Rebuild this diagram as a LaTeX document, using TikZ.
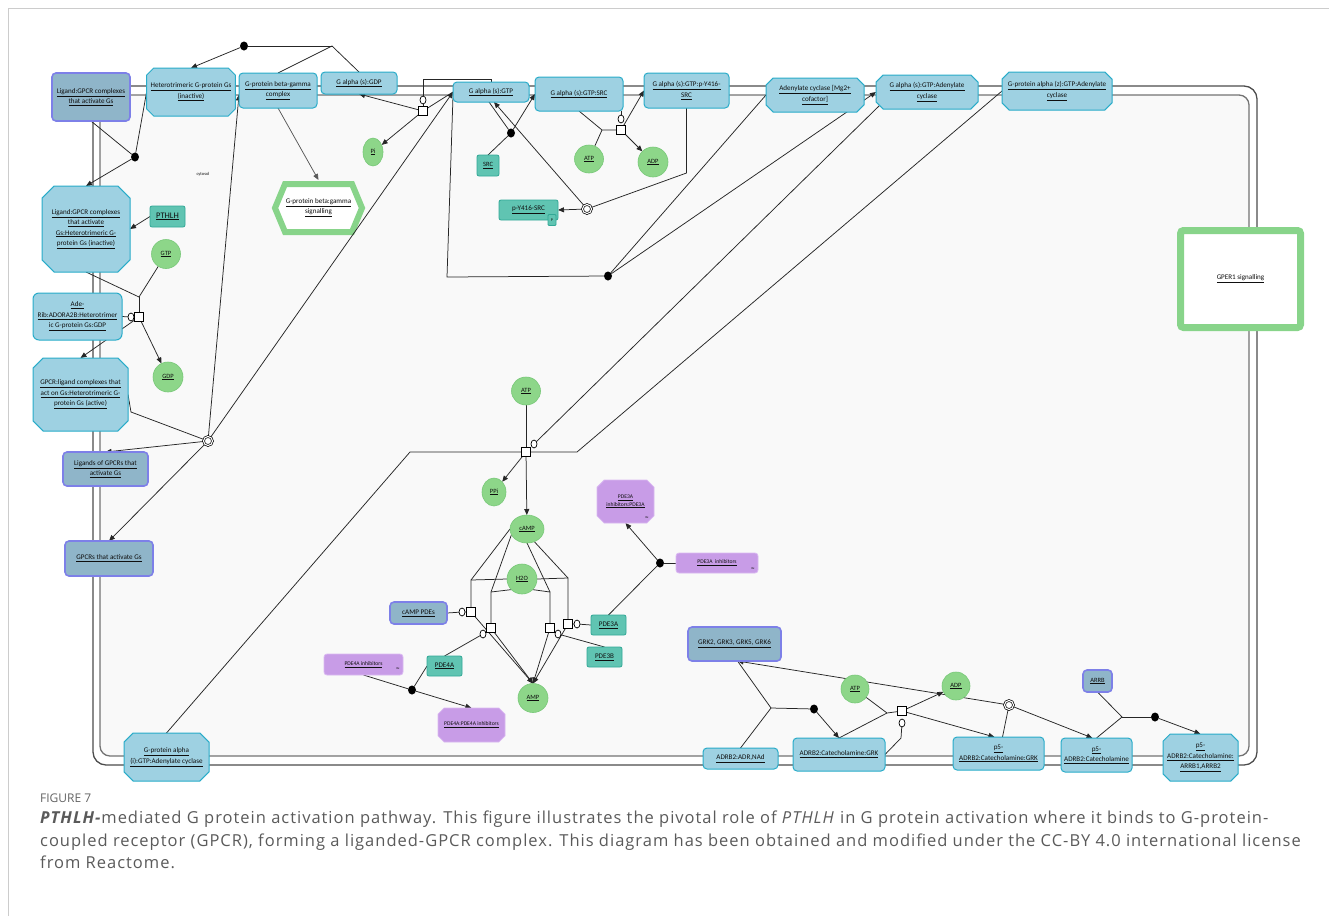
\documentclass[tikz,border=0pt]{standalone}
\usepackage{fontspec}
\setmainfont{Carlito}
\newfontfamily\capfont[LetterSpace=6]{Open Sans}
\newfontfamily\figfont{Open Sans}
\usetikzlibrary{arrows.meta,shapes.misc,shapes.geometric,calc}
\pgfdeclarelayer{comp}
\pgfdeclarelayer{edges}
\pgfsetlayers{comp,edges,main}

\definecolor{cplxF}{RGB}{158,209,226}
\definecolor{cplxB}{RGB}{41,172,201}
\definecolor{setF}{RGB}{143,181,201}
\definecolor{setB}{RGB}{125,128,232}
\definecolor{protF}{RGB}{96,196,178}
\definecolor{protB}{RGB}{50,168,150}
\definecolor{smF}{RGB}{141,214,137}
\definecolor{smB}{RGB}{120,200,120}
\definecolor{drugF}{RGB}{200,156,231}
\definecolor{drugB}{RGB}{218,185,242}
\definecolor{sigG}{RGB}{136,212,138}
\definecolor{cytF}{RGB}{249,249,249}
\definecolor{txtC}{RGB}{15,15,15}
\definecolor{capC}{RGB}{90,90,90}
\definecolor{figC}{RGB}{100,100,100}

\newcommand\ulx[1]{\underline{#1}}
\newcommand\dfont{\fontsize{7.1}{10.5}\selectfont}
\newcommand\smfont{\fontsize{6.5}{7}\selectfont}
\newcommand\drfont{\fontsize{5.6}{7.5}\selectfont}
\newcommand\rxfont{\fontsize{3}{3}\selectfont}

\tikzset{
  base/.style={inner sep=0pt, outer sep=0pt, align=center, font=\dfont, text=txtC},
  cplx/.style={base, draw=cplxB, fill=cplxF, line width=1pt, rounded corners=4pt},
  cplxo/.style={base, draw=cplxB, fill=cplxF, line width=1pt, chamfered rectangle, chamfered rectangle angle=45, chamfered rectangle xsep=4pt},
  eset/.style={base, draw=setB, fill=setF, line width=1.6pt, rounded corners=4pt},
  prot/.style={base, draw=protB, fill=protF, line width=0.8pt, rounded corners=2pt},
  smol/.style={base, draw=smB, fill=smF, line width=0.6pt, ellipse, font=\smfont},
  drug/.style={base, draw=drugB, fill=drugF, line width=0.8pt, rounded corners=3pt, font=\drfont},
  drugo/.style={base, draw=drugB, fill=drugF, line width=0.8pt, chamfered rectangle, chamfered rectangle angle=45, chamfered rectangle xsep=4pt, font=\drfont},
  rx/.style={inner sep=0pt, font=\rxfont, text=txtC},
  proc/.style={draw, fill=white, line width=0.7pt, minimum size=9pt, inner sep=0pt, outer sep=0pt},
  cata/.style={draw, fill=white, ellipse, line width=0.7pt, minimum width=6pt, minimum height=8pt, inner sep=0pt, outer sep=0pt},
  jdot/.style={fill=black, ellipse, minimum width=8pt, minimum height=9pt, inner sep=0pt, outer sep=0pt},
  diss/.style={draw, circle, fill=white, double, double distance=1.1pt, line width=0.7pt, minimum size=9pt, inner sep=0pt, outer sep=0pt},
  ln/.style={draw=black!85, line width=0.75pt},
  arr/.style={ln, -{Triangle[length=6pt,width=5pt]}},
}

\begin{document}
\begin{tikzpicture}[x=1pt,y=-1pt]
\useasboundingbox (0,0) rectangle (1329,916);

\begin{pgfonlayer}{comp}
  \draw[gray!40, line width=0.6pt] (8,916) -- (8,8) -- (1329,8);
  \draw[fill=cytF, draw=black!55, line width=1.3pt, rounded corners=10pt] (100,95) rectangle (1249,756);
  \draw[draw=black!70, line width=1.3pt, rounded corners=13pt] (93,86) rectangle (1257,765);
  % beta-gamma signalling hexagon
  \draw[draw=sigG, fill=white, line width=6pt, line join=miter] (275,208) -- (285,184) -- (352,184) -- (362,208) -- (352,232) -- (285,232) -- cycle;
\end{pgfonlayer}

% ---------- entities ----------
\node[eset, minimum width=78pt, minimum height=48pt] (l1) at (91,97) {\ulx{Ligand:GPCR complexes}\\\ulx{that activate Gs}};
\node[cplxo, minimum width=88pt, minimum height=48pt] (het) at (191,92) {\ulx{Heterotrimeric G-protein Gs}\\\ulx{(inactive)}};
\node[cplx, minimum width=78pt, minimum height=35pt] (bg) at (278,90.5) {\ulx{G-protein beta-gamma}\\\ulx{complex}};
\node[cplx, minimum width=76pt, minimum height=22pt] (gdpa) at (359,83) {\ulx{G alpha (s):GDP}};
\node[cplx, minimum width=76pt, minimum height=20pt] (gtpa) at (491,92) {\ulx{G alpha (s):GTP}};
\node[cplx, minimum width=88pt, minimum height=34pt] (srcc) at (579,94) {\ulx{G alpha (s):GTP:SRC}};
\node[cplx, minimum width=85pt, minimum height=35pt] (py) at (686.5,90.5) {\ulx{G alpha (s):GTP:p-Y416-}\\\ulx{SRC}};
\node[cplxo, minimum width=98pt, minimum height=34pt] (ac) at (815,95) {\ulx{Adenylate cyclase [Mg2+}\\\ulx{cofactor]}};
\node[cplxo, minimum width=102pt, minimum height=34pt] (gac) at (927,92) {\ulx{G alpha (s):GTP:Adenylate}\\\ulx{cyclase}};
\node[cplxo, minimum width=110pt, minimum height=38pt] (zac) at (1057,91) {\ulx{G-protein alpha (z):GTP:Adenylate}\\\ulx{cyclase}};

\node[base, minimum width=97pt, minimum height=55pt] (bgs) at (318.5,207.5) {\ulx{G-protein beta:gamma}\\\ulx{signalling}};
\node[base, font=\fontsize{4.5}{5}\selectfont] (cyt) at (203,174) {cytosol};

\node[prot, minimum width=35pt, minimum height=21pt, font=\fontsize{8.5}{9}\selectfont] (pthlh) at (167.5,216.5) {\ulx{PTHLH}};
\node[smol, minimum width=29pt, minimum height=29pt] (gtp) at (166,254) {\ulx{GTP}};
\node[cplxo, chamfered rectangle xsep=9pt, minimum width=88pt, minimum height=86pt] (l1h) at (86,229) {\ulx{Ligand:GPCR complexes}\\\ulx{that activate}\\\ulx{Gs:Heterotrimeric G-}\\\ulx{protein Gs (inactive)}};
\node[cplx, rounded corners=6pt, minimum width=89pt, minimum height=47pt] (ade) at (77.5,316.5) {\ulx{Ade-}\\\ulx{Rib:ADORA2B:Heterotrimer}\\\ulx{ic G-protein Gs:GDP}};
\node[smol, minimum width=30pt, minimum height=30pt] (gdp) at (168,377) {\ulx{GDP}};
\node[cplxo, chamfered rectangle xsep=7pt, minimum width=95pt, minimum height=73pt] (act) at (80.5,394.5) {\ulx{GPCR:ligand complexes that}\\\ulx{act on Gs:Heterotrimeric G-}\\\ulx{protein Gs (active)}};
\node[eset, minimum width=85pt, minimum height=34pt] (lig) at (105.5,469) {\ulx{Ligands of GPCRs that}\\\ulx{activate Gs}};
\node[eset, minimum width=88pt, minimum height=35pt] (gps) at (109,558.5) {\ulx{GPCRs that activate Gs}};
\node[cplxo, chamfered rectangle xsep=6pt, minimum width=85pt, minimum height=48pt] (gai) at (166.5,757) {\ulx{G-protein alpha}\\\ulx{(i):GTP:Adenylate cyclase}};

\node[smol, minimum width=20pt, minimum height=28pt] (pi) at (373,152) {\ulx{Pi}};
\node[prot, minimum width=22pt, minimum height=21pt, font=\smfont] (src) at (488,165.5) {\ulx{SRC}};
\node[prot, minimum width=59pt, minimum height=20pt] (pys) at (528.5,210) {\ulx{p-Y416-SRC}};
\node[prot, rounded corners=1pt, minimum width=8pt, minimum height=11pt, font=\fontsize{4}{4}\selectfont] (pysp) at (552,220) {P};
\node[smol, minimum width=29pt, minimum height=28pt] (atpa) at (589,159) {\ulx{ATP}};
\node[smol, minimum width=30pt, minimum height=30pt] (adpa) at (653,162) {\ulx{ADP}};

\node[base, draw=sigG, fill=white, line width=7pt, rounded corners=3pt, minimum width=120pt, minimum height=97pt] (gper) at (1240.5,279) {\ulx{GPER1 signalling}};

\node[smol, minimum width=29pt, minimum height=28pt] (atpb) at (526,391) {\ulx{ATP}};
\node[smol, minimum width=24pt, minimum height=28pt] (ppi) at (494,492) {\ulx{PPi}};
\node[smol, minimum width=34pt, minimum height=28pt] (camp) at (527,529) {\ulx{cAMP}};
\node[smol, minimum width=30pt, minimum height=30pt] (h2o) at (522,579) {\ulx{H2O}};
\node[smol, minimum width=30pt, minimum height=29pt] (amp) at (533,698) {\ulx{AMP}};

\node[eset, minimum width=57pt, minimum height=22pt] (cpde) at (418.5,613) {\ulx{cAMP PDEs}};
\node[prot, minimum width=35pt, minimum height=20pt] (pde4a) at (444.5,666) {\ulx{PDE4A}};
\node[prot, minimum width=35pt, minimum height=20pt] (pde3b) at (604.5,657) {\ulx{PDE3B}};
\node[prot, minimum width=35pt, minimum height=20pt] (pde3a) at (608.5,625) {\ulx{PDE3A}};

\node[drug, minimum width=82pt, minimum height=20pt] (p3i) at (717,563) {\ulx{PDE3A~~inhibitors}};
\node[rx] (p3irx) at (753,569) {Rx};
\node[drugo, minimum width=57pt, minimum height=43pt] (p3c) at (625.5,501.5) {\ulx{PDE3A}\\\ulx{inhibitors:PDE3A}};
\node[rx] (p3crx) at (647,518) {Rx};
\node[drug, minimum width=79pt, minimum height=21pt] (p4i) at (363.5,664.5) {\ulx{PDE4A inhibitors}};
\node[rx] (p4irx) at (398,669) {Rx};
\node[drugo, minimum width=67pt, minimum height=34pt] (p4c) at (471.5,725) {\ulx{PDE4A:PDE4A inhibitors}};

\node[eset, minimum width=93pt, minimum height=34pt] (grk) at (734.5,644) {\ulx{GRK2, GRK3, GRK5, GRK6}};
\node[smol, minimum width=28pt, minimum height=28pt] (atpc) at (855,689) {\ulx{ATP}};
\node[smol, minimum width=28pt, minimum height=28pt] (adpc) at (956,686) {\ulx{ADP}};
\node[eset, minimum width=29pt, minimum height=22pt, font=\smfont] (arrb) at (1097.5,681) {\ulx{ARRB}};
\node[cplx, minimum width=75pt, minimum height=21pt] (adr) at (740.5,758.5) {\ulx{ADRB2:ADR,NAd}};
\node[cplx, minimum width=92pt, minimum height=33pt] (acg) at (839,754.5) {\ulx{ADRB2:Catecholamine:GRK}};
\node[cplx, minimum width=91pt, minimum height=33pt] (p5g) at (998.5,753.5) {\ulx{p5-}\\\ulx{ADRB2:Catecholamine:GRK}};
\node[cplx, minimum width=71pt, minimum height=34pt] (p5c) at (1096.5,755) {\ulx{p5-}\\\ulx{ADRB2:Catecholamine}};
\node[cplxo, minimum width=75pt, minimum height=47pt] (p5a) at (1200.5,757.5) {\ulx{p5-}\\\ulx{ADRB2:Catecholamine:}\\\ulx{ARRB1,ARRB2}};

% ---------- process glyphs ----------
\node[jdot] (d1) at (244,46) {};
\coordinate (j1) at (332,46);
\node[jdot] (d2) at (135,157) {};
\node[proc] (sq1) at (139,317) {};
\node[cata] (c1) at (131,317) {};
\coordinate (j2) at (139,297);
\node[diss] (oc1) at (208,441) {};
\node[proc] (sq2) at (423,111) {};
\node[cata] (c2) at (423,100) {};
\node[jdot] (d3) at (511,133) {};
\node[proc] (sq3) at (621,130) {};
\node[cata] (c3) at (621,119) {};
\coordinate (j3) at (602,130);
\node[diss] (oc2) at (587,209) {};
\node[jdot] (d4) at (608,276) {};
\node[proc] (sq4) at (526,452) {};
\node[cata] (c4) at (534,444) {};
\node[proc] (s5) at (471,612) {};
\node[cata] (c5) at (462,612) {};
\node[proc] (s6) at (491,628) {};
\node[cata] (c6) at (483,634) {};
\node[proc] (s7) at (550,628) {};
\node[cata] (c7) at (558,634) {};
\node[proc] (s8) at (568,624) {};
\node[cata] (c8) at (577,624) {};
\coordinate (k5) at (471,580);
\coordinate (k6) at (491,592);
\coordinate (k7) at (550,592);
\coordinate (k8) at (568,578);
\node[jdot] (d5) at (660,563) {};
\node[jdot] (d6) at (412,690) {};
\coordinate (j4) at (771,708);
\node[jdot] (d7) at (814,709) {};
\node[proc] (sq9) at (902,711) {};
\node[cata] (c9) at (902,723) {};
\coordinate (j5) at (887,713);
\node[diss] (oc3) at (1009,705) {};
\coordinate (j6) at (1122,717);
\node[jdot] (d8) at (1155,717) {};

% ---------- connectors ----------
\begin{pgfonlayer}{edges}
  \draw[ln] (bg.north) -- (j1) -- (gdpa.north);
  \draw[ln] (j1) -- (d1);
  \draw[arr] (d1) -- (het.north);
  \draw[ln] (l1.south) -- (d2);
  \draw[ln] (het.west) -- (d2);
  \draw[arr] (d2) -- (l1h.north);
  \draw[arr, draw=black!65] (bg.south) -- (bgs.north);
  \draw[arr] (pthlh.west) -- (l1h.east);
  \draw[ln] (l1h.south) -- (j2);
  \draw[ln] (gtp) -- (j2);
  \draw[ln] (j2) -- (sq1.north);
  \draw[ln] (ade.east) -- (c1) -- (sq1);
  \draw[arr] (sq1) -- (act.north);
  \draw[arr] (sq1) -- (gdp);
  \draw[ln] (act.east) -- (131,412) -- (oc1);
  \draw[arr] (oc1) -- (lig.north);
  \draw[arr] (oc1) -- (gps.north);
  \draw[arr] (oc1) -- ([yshift=-4pt]bg.west);
  \draw[arr] (oc1) -- (gtpa.west);
  % GTP hydrolysis
  \draw[ln] (c2) -- (423,79) -| (gtpa.north);
  \draw[ln] (c2) -- (sq2);
  \draw[ln] (gtpa.west) -- (sq2);
  \draw[arr] (sq2) -- (gdpa.south);
  \draw[arr] (sq2) -- (pi);
  % SRC binding
  \draw[ln] ([xshift=-2pt]gtpa.south) -- (d3);
  \draw[ln] (src.north) -- (d3);
  \draw[arr] (d3) -- (srcc.west);
  % autophosphorylation
  \draw[ln] (srcc.south) -- (j3) -- (sq3);
  \draw[ln] (atpa) -- (j3);
  \draw[ln] (c3) -- (c3 |- srcc.south);
  \draw[arr] (sq3) -- (py.west);
  \draw[arr] (sq3) -- (adpa);
  % p-Y416-SRC dissociation
  \draw[ln] (py.south) -- (686.5,173) -- (oc2);
  \draw[arr] (oc2) -- (pys.east);
  \draw[arr] (oc2) -- ([xshift=3pt]gtpa.south);
  % adenylate cyclase binding
  \draw[ln] ([yshift=-4pt]gtpa.west) -- (447,277) -- (d4);
  \draw[ln] (ac.west) -- (d4);
  \draw[arr] (d4) -- (gac.west);
  % ATP -> cAMP
  \draw[ln] (atpb) -- (sq4);
  \draw[arr] (sq4) -- (ppi);
  \draw[arr] (sq4) -- (camp);
  \draw[ln] (c4) -- (gac.south west);
  \draw[ln] (sq4) -- (577,452) -- (zac.west);
  \draw[ln] (gai.north) -- (410,452) -- (sq4);
  % cAMP hydrolysis
  \draw[ln] (camp.west) -- (k5) -- (s5.north);
  \draw[ln] (h2o.west) -- (k5);
  \draw[ln] (camp.200) -- (k6) -- (s6.north);
  \draw[ln] (h2o.225) -- (k6);
  \draw[ln] (camp.south) -- (k7) -- (s7.north);
  \draw[ln] (h2o.315) -- (k7);
  \draw[ln] (camp.300) -- (k8) -- (s8.north);
  \draw[ln] (h2o.east) -- (k8);
  \draw[ln] (cpde.east) -- (c5) -- (s5);
  \draw[ln] (pde4a.north) -- (c6) -- (s6);
  \draw[ln] (pde3b.north) -- (c7) -- (s7);
  \draw[ln] (pde3a.west) -- (c8) -- (s8);
  \draw[arr] (s5) -- (amp.north);
  \draw[arr] (s6) -- (amp.north);
  \draw[arr] (s7) -- (amp.north);
  \draw[arr] (s8) -- (amp.north);
  % drugs
  \draw[ln] (p3i.west) -- (d5);
  \draw[ln] (pde3a.north) -- (d5);
  \draw[arr] (d5) -- (p3c.south);
  \draw[ln] (p4i.south) -- (d6);
  \draw[ln] (pde4a.west) -- (d6);
  \draw[arr] (d6) -- (p4c.north);
  % GRK / arrestin
  \draw[ln] (adr.north) -- (j4) -- ([xshift=3pt]grk.south);
  \draw[ln] (j4) -- (d7);
  \draw[arr] (d7) -- (acg.north);
  \draw[ln] (acg.north) -- (j5) -- (sq9);
  \draw[ln] (atpc) -- (j5);
  \draw[arr] (sq9) -- (adpc);
  \draw[arr] (sq9) -- ([xshift=-4pt]p5g.north);
  \draw[ln] (c9) -- (901,738) -- (acg.east);
  \draw[ln] ([xshift=4pt]p5g.north) -- (oc3);
  \draw[arr] (oc3) -- ([xshift=3pt]grk.south);
  \draw[arr] (oc3) -- ([xshift=-4pt]p5c.north);
  \draw[ln] (arrb.south) -- (j6);
  \draw[ln] (p5c.north) -- (j6);
  \draw[ln] (j6) -- (d8);
  \draw[arr] (d8) -- (p5a.north);
\end{pgfonlayer}

% ---------- caption ----------
\node[anchor=base west, inner sep=0pt, font=\figfont\fontsize{12}{14}\selectfont, text=figC] (fig) at (40,802) {FIGURE 7};
\node[anchor=base west, inner sep=0pt, font=\capfont\fontsize{16.5}{20}\selectfont, text=capC] (cap1) at (40,823) {\textbf{\textit{PTHLH-}}mediated G protein activation pathway. This figure illustrates the pivotal role of \textit{PTHLH} in G protein activation where it binds to G-protein-};
\node[anchor=base west, inner sep=0pt, font=\capfont\fontsize{16.5}{20}\selectfont, text=capC] (cap2) at (40,846) {coupled receptor (GPCR), forming a liganded-GPCR complex. This diagram has been obtained and modified under the CC-BY 4.0 international license};
\node[anchor=base west, inner sep=0pt, font=\capfont\fontsize{16.5}{20}\selectfont, text=capC] (cap3) at (40,868) {from Reactome.};
\end{tikzpicture}
\end{document}
